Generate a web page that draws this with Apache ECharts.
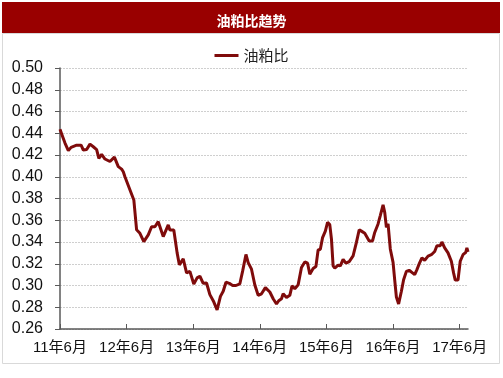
<!DOCTYPE html>
<html>
<head>
<meta charset="utf-8">
<script src="https://cdn.jsdelivr.net/npm/echarts@6/dist/echarts.min.js"></script>
<style>
  html, body { margin: 0; padding: 0; background: #fff; }
  #chart { width: 503px; height: 378px; }
</style>
</head>
<body>
<div id="chart"></div>
<script>
// 横轴：以 2011年6月 为 0 的月数
var months = [
  0, 0.4, 0.9, 1.5, 2.0, 3.0, 3.8, 4.2, 4.8, 5.4, 6.0, 6.6, 7.0, 7.5, 8.1, 9.0, 9.8, 10.5,
  11.1, 11.4, 11.7, 12.3, 13.3, 13.8, 14.4, 15.1, 15.9, 16.5, 17.1, 17.7, 18.6, 19.5, 19.8,
  20.5, 21.1, 21.5, 22.2, 22.8, 23.4, 24.1, 24.7, 25.2, 25.8, 26.4, 27.0, 27.7, 28.3, 28.9,
  29.4, 29.9, 30.5, 31.1, 31.7, 32.4, 32.9, 33.5, 33.9, 34.5, 35.1, 35.7, 36.3, 37.0, 37.8,
  38.4, 39.0, 39.4, 39.9, 40.2, 40.8, 41.4, 41.8, 42.3, 42.9, 43.5, 44.1, 44.6, 45.0, 45.6,
  46.1, 46.5, 46.9, 47.3, 47.8, 48.2, 48.6, 48.9, 49.2, 49.5, 50.1, 50.5, 51.0, 51.5, 52.1,
  52.8, 53.4, 53.9, 54.3, 54.9, 55.7, 56.3, 56.7, 57.3, 57.7, 58.2, 58.5, 58.8, 59.1, 59.5,
  60.0, 60.3, 60.6, 61.0, 61.5, 61.9, 62.4, 62.9, 63.5, 63.9, 64.3, 64.7, 65.2, 65.7, 66.3,
  66.9, 67.5, 67.9, 68.5, 68.8, 69.3, 69.9, 70.5, 70.9, 71.2, 71.7, 72.1, 72.6, 73.1, 73.3, 73.5
];
// 油粕比
var ratio = [
  0.4436, 0.438, 0.431, 0.424, 0.427, 0.429, 0.429, 0.4246, 0.425, 0.430, 0.4276, 0.425, 0.417, 0.4206, 0.4163, 0.414, 0.418, 0.4093,
  0.407, 0.4046, 0.400, 0.392, 0.3787, 0.3512, 0.348, 0.3403, 0.3465, 0.354, 0.354, 0.3587, 0.345, 0.3557, 0.351,
  0.351, 0.330, 0.319, 0.3245, 0.3116, 0.313, 0.3014, 0.307, 0.3085, 0.302, 0.3023, 0.2916, 0.285, 0.2775, 0.290,
  0.2947, 0.303, 0.302, 0.300, 0.300, 0.3016, 0.3132, 0.3285, 0.321, 0.315, 0.3005, 0.291, 0.2924, 0.298, 0.294,
  0.2878, 0.283, 0.286, 0.2878, 0.2924, 0.289, 0.291, 0.2997, 0.297, 0.3006, 0.3165, 0.3217, 0.3205, 0.3103, 0.3156,
  0.3174, 0.3327, 0.3333, 0.344, 0.350, 0.358, 0.356, 0.3428, 0.318, 0.316, 0.3188, 0.318, 0.324, 0.3205, 0.322,
  0.3273, 0.3397, 0.3513, 0.350, 0.348, 0.341, 0.341, 0.3488, 0.3566, 0.3643, 0.3741, 0.3673, 0.3535, 0.3566, 0.3336,
  0.3213, 0.305, 0.2894, 0.283, 0.2947, 0.3053, 0.313, 0.314, 0.3116, 0.310, 0.3146, 0.3198, 0.3253, 0.3232, 0.327,
  0.3283, 0.3313, 0.3366, 0.3366, 0.340, 0.3346, 0.330, 0.3223, 0.3116, 0.305, 0.305, 0.3223, 0.3283, 0.3305, 0.3346, 0.331
];
var xTicks = [0, 12, 24, 36, 48, 60, 72];
var xLabels = ['11年6月', '12年6月', '13年6月', '14年6月', '15年6月', '16年6月', '17年6月'];
var seriesName = '油粕比';
var chartTitle = '油粕比趋势';

var font = 'Arial, "Liberation Sans", "Noto Sans CJK SC", sans-serif';
var red = '#7f0b0b';

var points = months.map(function (m, i) { return [m, ratio[i]]; });

var chart = echarts.init(document.getElementById('chart'), null, { renderer: 'canvas' });
chart.setOption({
  animation: false,
  backgroundColor: '#fff',
  graphic: [
    { type: 'rect', shape: { x: 2, y: 2, width: 498, height: 31 }, style: { fill: '#990000' }, z: -1 },
    { type: 'rect', shape: { x: 2.5, y: 33.5, width: 497, height: 330 },
      style: { fill: 'none', stroke: '#d9d9d9', lineWidth: 1 }, z: -1 }
  ],
  title: {
    text: chartTitle,
    left: 'center',
    top: 9,
    textStyle: { color: '#fff', fontSize: 14, fontWeight: 'bold', fontFamily: '"Noto Sans CJK SC", sans-serif' }
  },
  legend: {
    data: [seriesName],
    top: 43,
    left: 'center',
    icon: 'rect',
    itemWidth: 24,
    itemHeight: 3,
    itemGap: 4,
    textStyle: { color: '#222', fontSize: 15, fontFamily: '"Noto Sans CJK SC", sans-serif' }
  },
  grid: { left: 60, right: 35, top: 68, bottom: 49, containLabel: false },
  xAxis: {
    type: 'value',
    min: 0,
    max: 73.5,
    axisLine: { lineStyle: { color: '#595959', width: 1.5 } },
    axisTick: { inside: true, length: 5, customValues: xTicks, lineStyle: { color: '#595959' } },
    axisLabel: {
      customValues: xTicks,
      margin: 11,
      color: '#111',
      fontSize: 15,
      fontFamily: font,
      formatter: function (v) { return xLabels[Math.round(v / 12)]; }
    },
    splitLine: { show: false }
  },
  yAxis: {
    type: 'value',
    min: 0.26,
    max: 0.50,
    interval: 0.02,
    axisLine: { show: true, lineStyle: { color: '#595959', width: 1.5 } },
    axisTick: { show: true, length: 5, lineStyle: { color: '#595959' } },
    axisLabel: {
      margin: 17,
      color: '#111',
      fontSize: 16,
      fontFamily: font,
      formatter: function (v) { return v.toFixed(2); }
    },
    splitLine: { show: true, lineStyle: { color: '#cfcfcf', type: [2, 1], width: 1 } }
  },
  series: [{
    name: seriesName,
    type: 'line',
    data: points,
    showSymbol: false,
    symbol: 'none',
    lineStyle: { color: red, width: 3 },
    itemStyle: { color: red }
  }]
});
</script>
</body>
</html>
